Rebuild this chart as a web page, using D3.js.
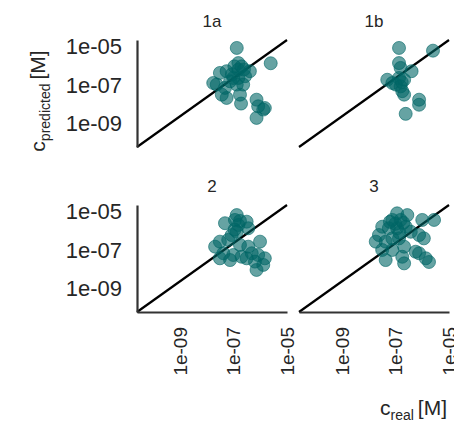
<!DOCTYPE html>
<html><head><meta charset="utf-8">
<script src="https://cdn.jsdelivr.net/npm/d3@7"></script>
<style>body{margin:0;background:#fff}svg{display:block}text{font-family:"Liberation Sans",Arial,sans-serif;fill:#262626}</style>
</head><body><div id="chart"></div>
<script>
const panels = ["1a", "1b", "2", "3"];
const tickValues = [1e-9, 1e-7, 1e-5];
const tickLabels = ["1e-09", "1e-07", "1e-05"];
const xDomain = [2.51e-11, 1.02e-5];
const yDomain = [6.31e-11, 2.09e-5];

const real_1a = [1.35e-7, 2.51e-6, 1.55e-7, 2.04e-7, 1.10e-7, 5.62e-8, 4.17e-7, 3.16e-8, 2.75e-7, 7.59e-8, 2.40e-8, 4.90e-8, 1.35e-7, 2.34e-7, 3.72e-8, 5.62e-8, 1.78e-7, 1.95e-7, 7.41e-7, 8.51e-7, 1.32e-6, 1.51e-6, 7.41e-7, 1.00e-7, 1.55e-7, 1.78e-8, 1.55e-7, 2.51e-7, 8.91e-8];
const pred_1a = [8.13e-6, 1.32e-6, 1.35e-6, 9.12e-7, 9.12e-7, 5.13e-7, 5.13e-7, 4.17e-7, 2.82e-7, 1.55e-7, 1.05e-7, 7.08e-8, 1.05e-7, 1.05e-7, 3.16e-8, 2.14e-8, 3.16e-8, 1.10e-8, 1.74e-8, 7.94e-9, 5.37e-9, 6.46e-9, 2.00e-9, 2.29e-7, 2.29e-7, 1.26e-7, 6.17e-7, 6.31e-7, 3.55e-7];

const real_1b = [1.38e-7, 2.57e-6, 1.38e-7, 1.58e-7, 4.07e-7, 5.01e-8, 1.38e-7, 2.14e-7, 1.05e-7, 1.58e-7, 1.82e-7, 2.14e-7, 7.76e-7, 7.76e-7, 2.45e-7, 7.76e-8, 1.74e-7];
const pred_1b = [8.13e-6, 5.89e-6, 1.35e-6, 7.59e-7, 5.13e-7, 1.86e-7, 2.29e-7, 1.86e-7, 1.05e-7, 8.51e-8, 4.79e-8, 3.16e-8, 1.74e-8, 9.55e-9, 3.24e-9, 1.26e-7, 1.41e-7];

const real_2 = [1.35e-7, 1.15e-7, 3.16e-7, 4.90e-8, 1.55e-7, 3.63e-7, 1.35e-7, 3.16e-8, 6.46e-8, 1.00e-6, 1.78e-7, 3.63e-7, 2.09e-8, 4.27e-8, 1.00e-7, 2.04e-7, 4.90e-7, 8.51e-7, 1.51e-6, 1.32e-6, 7.41e-7, 3.16e-8, 7.59e-8, 6.46e-7, 3.16e-7, 8.71e-8, 1.78e-7, 1.12e-7];
const pred_2 = [6.31e-6, 3.55e-6, 2.88e-6, 2.40e-6, 1.95e-6, 1.32e-6, 8.71e-7, 2.69e-7, 3.31e-7, 2.69e-7, 1.82e-7, 1.48e-7, 1.48e-7, 6.76e-8, 5.50e-8, 4.47e-8, 6.76e-8, 5.50e-8, 3.72e-8, 1.70e-8, 9.33e-9, 3.72e-8, 3.02e-8, 2.51e-8, 3.72e-8, 5.89e-7, 3.16e-6, 1.12e-6];

const real_3 = [1.17e-7, 2.82e-7, 7.76e-8, 1.58e-7, 1.02e-6, 2.82e-6, 3.24e-8, 5.75e-8, 1.17e-7, 2.45e-7, 3.80e-7, 7.76e-7, 2.45e-8, 1.86e-8, 4.37e-8, 1.17e-6, 1.38e-7, 3.24e-8, 7.76e-8, 2.14e-7, 5.75e-7, 7.76e-7, 1.38e-6, 4.37e-8, 1.82e-7, 2.14e-7, 1.82e-6, 7.76e-8, 1.00e-7, 2.00e-7, 6.31e-8, 1.41e-7];
const pred_3 = [7.76e-6, 6.31e-6, 3.55e-6, 3.55e-6, 3.55e-6, 3.55e-6, 1.58e-6, 1.32e-6, 1.32e-6, 1.58e-6, 8.71e-7, 5.89e-7, 5.89e-7, 2.69e-7, 2.69e-7, 3.98e-7, 3.98e-7, 1.00e-7, 1.00e-7, 1.48e-7, 8.13e-8, 6.76e-8, 3.72e-8, 3.02e-8, 4.47e-8, 2.04e-8, 2.40e-8, 3.98e-7, 2.24e-6, 2.51e-6, 2.82e-6, 7.94e-7];

const realSeries = {"1a": real_1a, "1b": real_1b, "2": real_2, "3": real_3};
const predSeries = {"1a": pred_1a, "1b": pred_1b, "2": pred_2, "3": pred_3};

const W = 454, H = 422;
const colX = [137, 299], rowY = [40, 205];
const pw = 150, ph = 107;
const color = "#006666";

const svg = d3.select("#chart").append("svg").attr("width", W).attr("height", H);

const x = d3.scaleLog().domain(xDomain).range([0, pw]);
const y = d3.scaleLog().domain(yDomain).range([ph, 0]);

panels.forEach((name, i) => {
  const col = i % 2, row = Math.floor(i / 2);
  const g = svg.append("g").attr("transform", `translate(${colX[col]},${rowY[row]})`);
  g.append("text").attr("x", pw / 2).attr("y", -13.5).attr("text-anchor", "middle")
    .style("font-size", "17px").text(name);
  g.append("line").attr("x1", x(xDomain[0])).attr("y1", y(yDomain[0]))
    .attr("x2", x(xDomain[1])).attr("y2", y(yDomain[1]))
    .attr("stroke", "#000").attr("stroke-width", 2.2);
  const rv = realSeries[name], pv = predSeries[name];
  g.selectAll("circle").data(rv.map((v, k) => [v, pv[k]])).join("circle")
    .attr("cx", d => x(d[0])).attr("cy", d => y(d[1])).attr("r", 6.5)
    .attr("fill", color).attr("fill-opacity", 0.6)
    .attr("stroke", color).attr("stroke-opacity", 0.6).attr("stroke-width", 1);
  if (col === 0) {
    const ya = d3.axisLeft(y).tickValues(tickValues).tickFormat((d, k) => tickLabels[k]).tickSize(0).tickPadding(15);
    const ag = g.append("g").call(ya);
    ag.select(".domain").attr("stroke", "#333").attr("stroke-width", 2.2);
    ag.selectAll("text").style("font-size", "22px").attr("fill", "#262626")
      .style("font-family", '"Liberation Sans",Arial,sans-serif');
  }
  if (row === 1) {
    const xa = d3.axisBottom(x).tickValues(tickValues).tickFormat((d, k) => tickLabels[k]).tickSize(0).tickPadding(0);
    const ag = g.append("g").attr("transform", `translate(0,${ph})`).call(xa);
    ag.select(".domain").attr("stroke", "#333").attr("stroke-width", 2.2);
    ag.selectAll("text").style("font-size", "19px").attr("fill", "#262626")
      .style("font-family", '"Liberation Sans",Arial,sans-serif')
      .attr("transform", "rotate(-90)").attr("text-anchor", "end")
      .attr("x", -15).attr("y", 0).attr("dy", "0.35em");
  }
});

const yl = svg.append("text").attr("transform", "translate(45,101) rotate(-90)").attr("text-anchor", "middle");
yl.append("tspan").style("font-size", "21px").text("c");
yl.append("tspan").style("font-size", "14px").attr("dy", 5).text("predicted");
yl.append("tspan").style("font-size", "21px").attr("dy", -5).attr("dx", 4).text("[M]");

const xl = svg.append("text").attr("x", 447).attr("y", 415).attr("text-anchor", "end");
xl.append("tspan").style("font-size", "21px").text("c");
xl.append("tspan").style("font-size", "14px").attr("dy", 5).text("real");
xl.append("tspan").style("font-size", "21px").attr("dy", -5).attr("dx", 4).text("[M]");
</script></body></html>
